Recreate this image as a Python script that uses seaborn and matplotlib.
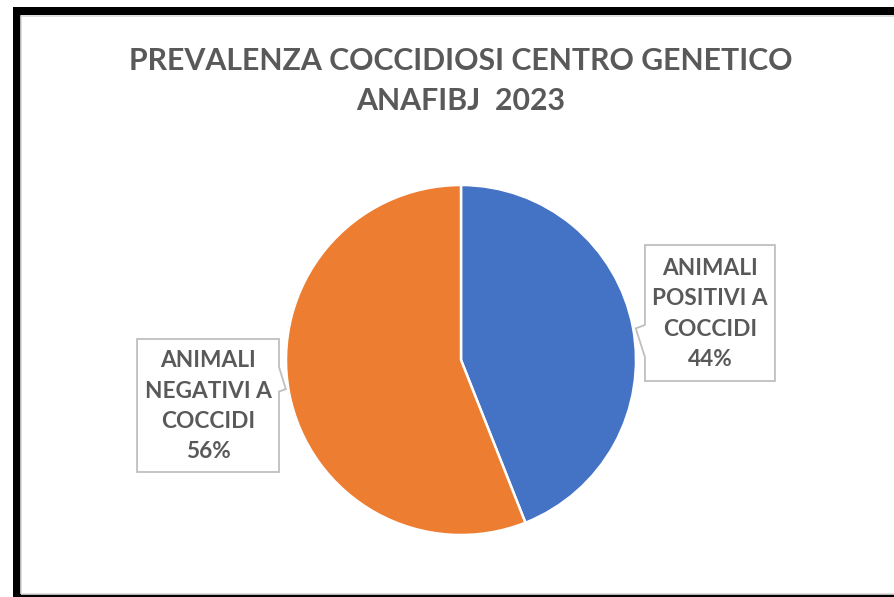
import numpy as np
import matplotlib
matplotlib.use("Agg")
import matplotlib.pyplot as plt
from matplotlib.patches import Rectangle, Polygon
import seaborn as sns

# dati del grafico
categorie = ["ANIMALI\nPOSITIVI A\nCOCCIDI", "ANIMALI\nNEGATIVI A\nCOCCIDI"]
percentuali = [44, 56]
colori = ["#4472C4", "#ED7D31"]
titolo = "PREVALENZA COCCIDIOSI CENTRO GENETICO\nANAFIBJ  2023"

sns.set_theme(style="white")
plt.rcParams["font.family"] = ["Lato", "DejaVu Sans"]
grigio = "#595959"

fig = plt.figure(figsize=(8.95, 5.97), dpi=100)
fig.patch.set_facecolor("white")

# cornice nera (sopra, sinistra, sotto) + bordo grigio chiaro interno
W, H = 895, 597
def px_rect(x0, y0, x1, y1, **kw):
    fig.add_artist(Rectangle((x0 / W, 1 - y1 / H), (x1 - x0) / W, (y1 - y0) / H,
                             transform=fig.transFigure, **kw))
px_rect(13, 7, W, 15, color="black", lw=0)
px_rect(13, 7, 21, H, color="black", lw=0)
px_rect(13, 594, W, H, color="black", lw=0)
px_rect(21.5, 15.5, W + 5, 593.5, fill=False, ec="#d9d9d9", lw=1.2)

# pie: centro (461, 360), raggio 175 px
R = 175
ax = fig.add_axes([(461 - 2.6 * R) / W, 1 - (360 + 2.6 * R) / H, 5.2 * R / W, 5.2 * R / H])

wedges, _ = ax.pie(percentuali, colors=colori, startangle=90, counterclock=False,
                   radius=1, wedgeprops=dict(edgecolor="white", linewidth=1.8))
ax.set_xlim(-2.6, 2.6)
ax.set_ylim(-2.6, 2.6)
ax.set_aspect("equal")
ax.axis("off")

# etichette con riquadro a fumetto
# (box x0, x1, y0, y1 in unità del raggio; angolo della punta; intervallo dell'incavo)
box_pos = [
    dict(box=(1.051, 1.794, -0.12, 0.657), tip_ang=10.4, notch=(0.20, 0.017), side="left"),
    dict(box=(-1.851, -1.04, -0.64, 0.12), tip_ang=189.6, notch=(-0.04, -0.18), side="right"),
]
for lab, p, cfg in zip(categorie, percentuali, box_pos):
    x0, x1, y0, y1 = cfg["box"]
    a = np.deg2rad(cfg["tip_ang"])
    tx, ty = 1.0 * np.cos(a), 1.0 * np.sin(a)
    n_hi, n_lo = cfg["notch"]
    if cfg["side"] == "left":
        pts = [(x0, y1), (x1, y1), (x1, y0), (x0, y0), (x0, n_lo), (tx + 0.015, ty), (x0, n_hi)]
    else:
        pts = [(x0, y1), (x1, y1), (x1, n_hi), (tx - 0.015, ty), (x1, n_lo), (x1, y0), (x0, y0)]
    ax.add_patch(Polygon(pts, closed=True, fc="white", ec="#bfbfbf", lw=1.3, zorder=3))
    ax.text((x0 + x1) / 2, (y0 + y1) / 2 - 0.005, f"{lab}\n{p}%", ha="center", va="center",
            fontsize=16.3, fontweight="bold", color=grigio, linespacing=1.55, zorder=4)

fig.text(461 / W, 1 - 81 / H, titolo, ha="center", va="center", fontsize=21.8,
         fontweight="bold", color=grigio, linespacing=1.5)

fig.savefig("out.png", dpi=100)
